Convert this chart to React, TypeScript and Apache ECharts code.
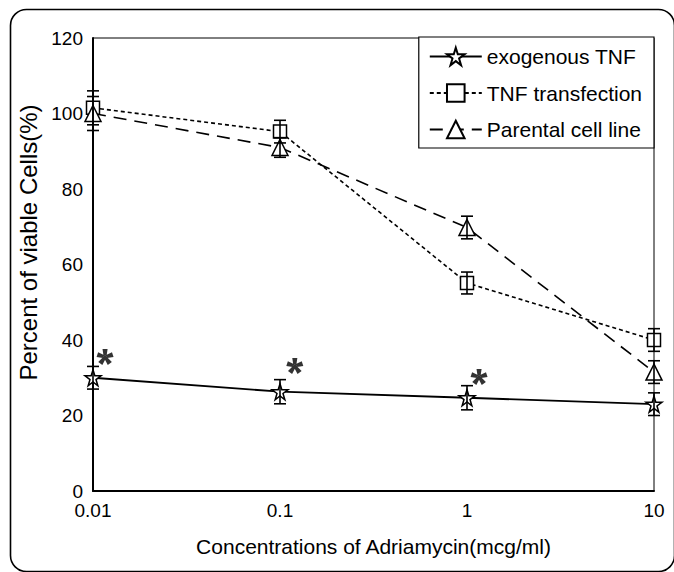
import React, { useEffect, useRef } from "react";
import * as echarts from "echarts";

const xValues = [0.01, 0.1, 1, 10];
const exoMean = [30, 26.3, 24.7, 23];
const exoErr = [3, 3.2, 3.2, 3];
const tnfMean = [101.5, 95.2, 55.1, 40];
const tnfErr = [4.5, 3, 2.9, 3];
const parMean = [100, 91, 69.8, 31.5];
const parErr = [4.5, 2.6, 3, 3];
const astX = [0.0116, 0.12, 1.16];
const astY = [35.5, 33.1, 30.2];
const yTicks = [0, 20, 40, 60, 80, 100, 120];
const seriesNames = ["exogenous TNF", "TNF transfection", "Parental cell line"];

const FONT = "'Liberation Sans', Arial, sans-serif";
const STAR = "path://M50,2 L61,37 L98,37 L68,59 L79,95 L50,73 L21,95 L32,59 L2,37 L39,37 Z";

function makeAsterisk(): string {
  const angles = [-90, -18, 54, 126, 198];
  const parts = angles.map((deg) => {
    const a = (deg * Math.PI) / 180;
    const dx = Math.cos(a);
    const dy = Math.sin(a);
    const px = -dy;
    const py = dx;
    const c0 = 8;
    const c1 = 15;
    const L = 48;
    const pts = [
      [50 + px * c0, 50 + py * c0],
      [50 + dx * L + px * c1, 50 + dy * L + py * c1],
      [50 + dx * L - px * c1, 50 + dy * L - py * c1],
      [50 - px * c0, 50 - py * c0],
    ];
    return "M" + pts.map((p) => p[0].toFixed(2) + "," + p[1].toFixed(2)).join(" L") + " Z";
  });
  return "path://M38,50 L50,38 L62,50 L50,62 Z " + parts.join(" ");
}
const ASTERISK = makeAsterisk();

function errSeries(mean: number[], err: number[]) {
  return {
    type: "custom",
    z: 4,
    clip: false,
    silent: true,
    data: xValues.map((x, i) => [x, mean[i] - err[i], mean[i] + err[i]]),
    encode: { x: 0, y: [1, 2] },
    renderItem: (params: any, api: any) => {
      const x = api.value(0);
      const lo = api.value(1);
      const hi = api.value(2);
      const p1 = api.coord([x, hi]);
      const p2 = api.coord([x, lo]);
      const w = 6;
      const st = { stroke: "#000", lineWidth: 1.6 };
      return {
        type: "group",
        children: [
          { type: "line", shape: { x1: p1[0], y1: p1[1], x2: p2[0], y2: p2[1] }, style: st },
          { type: "line", shape: { x1: p1[0] - w, y1: p1[1], x2: p1[0] + w, y2: p1[1] }, style: st },
          { type: "line", shape: { x1: p2[0] - w, y1: p2[1], x2: p2[0] + w, y2: p2[1] }, style: st },
        ],
      };
    },
  };
}

export default function App() {
  const ref = useRef<HTMLDivElement>(null);
  useEffect(() => {
    if (!ref.current) return;
    const chart = echarts.init(ref.current, null, { renderer: "svg" });
    const symStyle = { color: "#fff", borderColor: "#000", borderWidth: 1.5 };
    chart.setOption({
      animation: false,
      backgroundColor: "#fff",
      textStyle: { fontFamily: FONT, color: "#000" },
      grid: { left: 93, right: 20, top: 38, bottom: 81, show: true, borderColor: "#000", borderWidth: 1 },
      legend: {
        data: seriesNames,
        orient: "vertical",
        right: 20,
        top: 37,
        backgroundColor: "#fff",
        borderColor: "#000",
        borderWidth: 1.2,
        borderRadius: 0,
        padding: [9, 12, 8, 10],
        itemWidth: 52,
        itemHeight: 22,
        itemGap: 15.5,
        textStyle: { fontSize: 21, color: "#000", fontFamily: FONT },
      },
      xAxis: {
        type: "log",
        logBase: 10,
        min: 0.01,
        max: 10,
        name: "Concentrations of Adriamycin(mcg/ml)",
        nameLocation: "middle",
        nameGap: 45,
        nameTextStyle: { fontSize: 21, color: "#000", fontFamily: FONT },
        axisLine: { show: true, lineStyle: { color: "#000", width: 2 } },
        axisTick: { show: false },
        minorTick: { show: false },
        splitLine: { show: false },
        axisLabel: {
          fontSize: 19,
          color: "#000",
          margin: 10,
          formatter: (v: number) => String(parseFloat(v.toPrecision(6))),
        },
      },
      yAxis: {
        type: "value",
        min: yTicks[0],
        max: yTicks[yTicks.length - 1],
        interval: 20,
        name: "Percent of viable Cells(%)",
        nameLocation: "middle",
        nameGap: 31,
        nameTextStyle: { fontSize: 24, color: "#000", fontFamily: FONT, padding: [0, 0, 0, 44] },
        axisLine: { show: true, lineStyle: { color: "#000", width: 2 } },
        axisTick: { show: false },
        splitLine: { show: false },
        axisLabel: { fontSize: 19, color: "#000", margin: 10 },
      },
      series: [
        {
          name: seriesNames[0],
          type: "line",
          z: 3,
          clip: false,
          data: xValues.map((x, i) => [x, exoMean[i]]),
          symbol: STAR,
          symbolSize: 16,
          showAllSymbol: true,
          lineStyle: { color: "#000", width: 1.8, type: "solid" },
          itemStyle: symStyle,
        },
        {
          name: seriesNames[1],
          type: "line",
          z: 3,
          clip: false,
          data: xValues.map((x, i) => [x, tnfMean[i]]),
          symbol: "rect",
          symbolSize: 13,
          lineStyle: { color: "#000", width: 1.6, type: [4, 3] },
          itemStyle: symStyle,
        },
        {
          name: seriesNames[2],
          type: "line",
          z: 3,
          clip: false,
          data: xValues.map((x, i) => [x, parMean[i]]),
          symbol: "triangle",
          symbolSize: 16,
          lineStyle: { color: "#000", width: 1.6, type: [13, 8] },
          itemStyle: symStyle,
        },
        errSeries(exoMean, exoErr),
        errSeries(tnfMean, tnfErr),
        errSeries(parMean, parErr),
        {
          type: "scatter",
          z: 5,
          silent: true,
          clip: false,
          data: astX.map((x, i) => [x, astY[i]]),
          symbol: ASTERISK,
          symbolSize: [17, 16],
          itemStyle: { color: "#000" },
        },
      ],
      graphic: [
        {
          type: "rect",
          left: 8,
          top: 7,
          shape: { width: 664, height: 562, r: 16 },
          style: { fill: "none", stroke: "#000", lineWidth: 1.6 },
          silent: true,
        },
      ],
    });
    return () => chart.dispose();
  }, []);
  return (
    <div
      ref={ref}
      style={{ position: "fixed", left: 0, top: 0, width: 674, height: 572 }}
    />
  );
}
